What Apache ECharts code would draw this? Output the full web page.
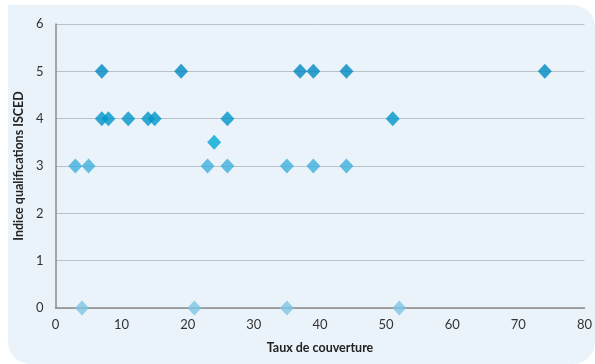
<!DOCTYPE html>
<html><head><meta charset="utf-8">
<script src="https://cdn.jsdelivr.net/npm/echarts@6/dist/echarts.min.js"></script>
<style>html,body{margin:0;padding:0;background:#fff;}#c{width:595px;height:364px;}</style>
</head><body><div id="c"></div>
<script>
var xTicks = [0,10,20,30,40,50,60,70,80];
var yTicks = [0,1,2,3,4,5,6];
var level5 = [[7,5],[19,5],[37,5],[39,5],[44,5],[74,5]];
var level4 = [[7,4],[8,4],[11,4],[14,4],[15,4],[26,4],[51,4]];
var level35 = [[24,3.5]];
var level3 = [[3,3],[5,3],[23,3],[26,3],[35,3],[39,3],[44,3]];
var level0 = [[4,0],[21,0],[35,0],[52,0]];

var chart = echarts.init(document.getElementById('c'), null, {renderer:'canvas'});
var fontFam = 'Lato, "Open Sans", sans-serif';
function s(data, color){
  return {type:'scatter', data:data, symbol:'diamond', symbolSize:[14,15],
    itemStyle:{color:color}, z:3};
}
chart.setOption({
  animation:false,
  graphic:[{type:'rect', z:-10, silent:true,
    shape:{x:8,y:5,width:587,height:359,r:[0,22,22,22]},
    style:{fill:'#EBF3FA'}}],
  grid:{left:55.5,right:10,top:24,bottom:56,containLabel:false},
  xAxis:{type:'value',min:0,max:80,interval:10,
    name:'Taux de couverture',nameLocation:'middle',nameGap:33,
    nameTextStyle:{fontFamily:fontFam,fontWeight:'bold',fontSize:12.5,color:'#222'},
    axisLine:{show:true,lineStyle:{color:'#8c8c8c',width:1.5}},
    axisTick:{show:false},splitLine:{show:false},
    axisLabel:{fontFamily:fontFam,fontSize:13,color:'#333',margin:10,
      formatter:function(v){return xTicks.indexOf(v)>=0?String(v):'';}}},
  yAxis:{type:'value',min:0,max:6,interval:1,
    name:'Indice qualifications ISCED',nameLocation:'middle',nameGap:27,
    nameTextStyle:{fontFamily:fontFam,fontWeight:'bold',fontSize:12.5,color:'#222'},
    axisLine:{show:true,lineStyle:{color:'#8c8c8c',width:1.5}},
    axisTick:{show:false},
    splitLine:{show:true,lineStyle:{color:'#b9c1c9',width:1}},
    axisLabel:{fontFamily:fontFam,fontSize:13,color:'#333',margin:12,
      formatter:function(v){return yTicks.indexOf(v)>=0?String(v):'';}}},
  series:[s(level0,'#7fc4e4'),s(level3,'#3eb0dc'),s(level35,'#00a8d5'),s(level4,'#0095c9'),s(level5,'#0088c2')]
});
</script></body></html>
